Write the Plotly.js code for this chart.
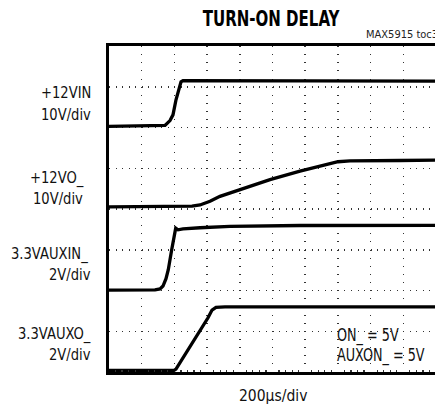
<!DOCTYPE html>
<html>
<head>
<meta charset="utf-8">
<script src="https://cdn.plot.ly/plotly-3.0.1.min.js"></script>
<style>
html,body{margin:0;padding:0;overflow:hidden;background:#fff;width:435px;height:404px;}
#chart{width:440px;height:404px;}
</style>
</head>
<body>
<div id="chart"></div>
<script>
// time in microseconds (200 us/div), vertical in screen divisions
const vinTime = [0, 342.6, 373, 391.4, 409.8, 428.2, 440.4, 452.6, 2000];
const vinLevel = [6.03, 6.05, 6.17, 6.31, 6.68, 6.98, 7.12, 7.15, 7.14];

const voTime = [0, 464.8, 507.6, 556.6, 617.8, 678.8, 801.2, 984.8, 1168.2, 1198.8, 1290.6, 1351.6, 1400.6, 1474, 1596.4, 1779.8, 2000];
const voLevel = [4.05, 4.05, 4.07, 4.10, 4.19, 4.31, 4.48, 4.72, 4.93, 4.96, 5.06, 5.12, 5.16, 5.18, 5.19, 5.19, 5.20];

const auxinTime = [0, 281.4, 312, 330.2, 348.6, 362.6, 383.4, 397.6, 408, 422, 452.6, 556.6, 740, 1168.2, 2000];
const auxinLevel = [2.01, 2.015, 2.04, 2.11, 2.29, 2.51, 3.0, 3.37, 3.53, 3.49, 3.51, 3.54, 3.575, 3.595, 3.60];

const auxoTime = [0, 397.6, 409.8, 495.4, 556.6, 605.6, 630, 654.4, 709.4, 2000];
const auxoLevel = [0.04, 0.04, 0.07, 0.61, 1.01, 1.33, 1.52, 1.585, 1.60, 1.60];

const channelLabels = ["+12VIN", "10V/div", "+12VO_", "10V/div", "3.3VAUXIN_", "2V/div", "3.3VAUXO_", "2V/div"];
const conditionLabels = ["ON_ = 5V", "AUXON_ = 5V"];
const titleText = "TURN-ON DELAY";
const figId = "MAX5915 toc35";
const timeScale = "200\u00b5s/div";

const FONT = "'DejaVu Sans Condensed', 'Liberation Sans Narrow', 'Arial Narrow', sans-serif";

// plot area in pixels: left 109, right 436, top 46, bottom 372
const PL = 109, PR = 436, PT = 46, PB = 372;
const px = v => (v - PL) / (PR - PL);
const py = v => (PB - v) / (PB - PT);

function trace(x, y) {
  return {x: x, y: y, type: 'scatter', mode: 'lines',
          line: {color: '#000', width: 3.3}, hoverinfo: 'skip', showlegend: false};
}

const data = [
  trace(vinTime, vinLevel),
  trace(voTime, voLevel),
  trace(auxinTime, auxinLevel),
  trace(auxoTime, auxoLevel)
];

const lblPos = [[93, 93], [93, 114], [86, 177], [85, 198], [90, 253], [93, 274], [93, 333], [93, 354]];
const annotations = [];
channelLabels.forEach((t, i) => {
  annotations.push({text: t, xref: 'paper', yref: 'paper', x: px(lblPos[i][0]), y: py(lblPos[i][1]),
    xanchor: 'right', yanchor: 'middle', showarrow: false,
    font: {family: FONT, size: 14.6, color: '#111'}});
});
const condPos = [[335, 335], [335, 355]];
conditionLabels.forEach((t, i) => {
  annotations.push({text: t, xref: 'paper', yref: 'paper', x: px(condPos[i][0]), y: py(condPos[i][1]),
    xanchor: 'left', yanchor: 'middle', showarrow: false,
    font: {family: FONT, size: 14.2, color: '#111'}});
});
annotations.push({text: timeScale, xref: 'paper', yref: 'paper', x: px(273), y: py(396),
  xanchor: 'center', yanchor: 'middle', showarrow: false,
  font: {family: FONT, size: 15.5, color: '#111'}});
annotations.push({text: figId, xref: 'paper', yref: 'paper', x: px(364), y: py(35),
  xanchor: 'left', yanchor: 'middle', showarrow: false,
  font: {family: FONT, size: 11, color: '#222'}});

const layout = {
  width: 440, height: 404,
  margin: {l: PL, r: 440 - PR, t: PT, b: 404 - PB, pad: 0},
  paper_bgcolor: '#fff', plot_bgcolor: '#fff',
  title: {text: '<b>' + titleText + '</b>', x: px(271), xref: 'paper', xanchor: 'center',
          y: 1 - 18 / 404, yanchor: 'middle',
          font: {family: FONT, size: 16.7, color: '#000'}},
  xaxis: {range: [0, 2000], dtick: 200, tick0: 0, showticklabels: false, ticks: '',
          showgrid: true, gridcolor: '#333', gridwidth: 1.5, griddash: '1px,7.14px',
          showline: true, linecolor: '#000', linewidth: 3, mirror: true, zeroline: false,
          minor: {dtick: 40, tick0: 0, ticks: 'inside', ticklen: 2.5, tickwidth: 1.2, tickcolor: '#333', showgrid: false},
          fixedrange: true},
  yaxis: {range: [0, 8], dtick: 1, tick0: 0, showticklabels: false, ticks: '',
          showgrid: true, gridcolor: '#333', gridwidth: 1.5, griddash: '1px,5.54px',
          showline: true, linecolor: '#000', linewidth: 3, mirror: true, zeroline: false,
          fixedrange: true},
  annotations: annotations
};

function stretch(el, sy) {
  if (!el) return;
  const b = el.getBBox();
  const cx = b.x + b.width / 2, cy = b.y + b.height / 2;
  const prev = el.getAttribute('transform') || '';
  el.setAttribute('transform', prev + ` translate(${cx},${cy}) scale(1,${sy}) translate(${-cx},${-cy})`);
}

Plotly.newPlot('chart', data, layout, {staticPlot: true, displayModeBar: false}).then(gd => {
  // stretch texts vertically to imitate the tall condensed face of the original
  stretch(gd.querySelector('.gtitle'), 1.3);
  const texts = gd.querySelectorAll('.annotation-text');
  texts.forEach((el, i) => {
    if (i < 8) stretch(el, 1.05);
    else if (i < 10) stretch(el, 1.3);
  });
});
</script>
</body>
</html>
